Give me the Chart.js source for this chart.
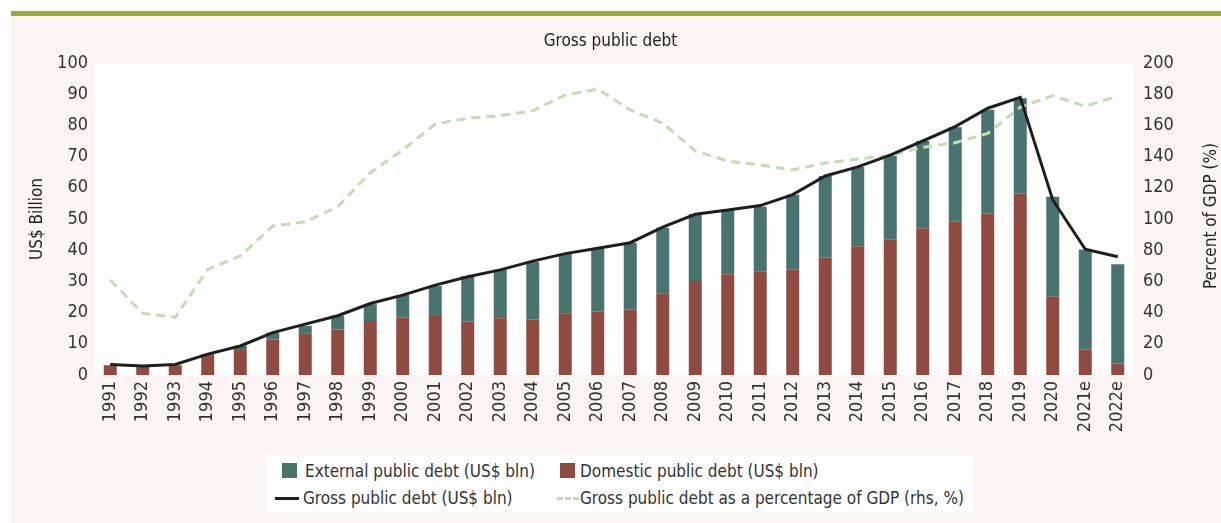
<!DOCTYPE html>
<html>
<head>
<meta charset="utf-8">
<script src="https://cdn.jsdelivr.net/npm/chart.js@4.4.1/dist/chart.umd.min.js"></script>
<style>
    body { margin: 0; background: #fff; font-family: "DejaVu Sans Condensed", sans-serif; }
    .frame { position: absolute; left: 11px; top: 11px; width: 1210px; height: 507px; border-top: 5px solid #9ca93b; background: #fdf5f3; }
    #chartWrap { position: absolute; left: 0; top: 0; width: 1221px; height: 523px; }
    .legend { position: absolute; left: 265px; top: 455px; width: 708px; height: 58px; background: #fff; color: #333; font-size: 17px; }
    .legend .item { position: absolute; white-space: nowrap; line-height: 20px; }
    .legend .sw { position: absolute; }
</style>
</head>
<body>
<div class="frame"></div>
<div id="chartWrap"><canvas id="debtChart" width="1221" height="523"></canvas></div>
<div class="legend">
    <div class="sw" style="left:17px;top:8px;width:15px;height:15px;background:#48736f"></div>
    <div class="item" style="left:40px;top:6px">External public debt (US$ bln)</div>
    <div class="sw" style="left:295px;top:8px;width:15px;height:15px;background:#8f4b40"></div>
    <div class="item" style="left:315px;top:6px">Domestic public debt (US$ bln)</div>
    <div class="sw" style="left:10px;top:42px;width:24px;height:0;border-top:3px solid #1e1e1e"></div>
    <div class="item" style="left:38px;top:33px">Gross public debt (US$ bln)</div>
    <div class="sw" style="left:292px;top:42px;width:22px;height:0;border-top:3px dashed #c5dbb0"></div>
    <div class="item" style="left:315px;top:33px">Gross public debt as a percentage of GDP (rhs, %)</div>
</div>
<script>
const years = ['1991', '1992', '1993', '1994', '1995', '1996', '1997', '1998', '1999', '2000',
    '2001', '2002', '2003', '2004', '2005', '2006', '2007', '2008', '2009', '2010',
    '2011', '2012', '2013', '2014', '2015', '2016', '2017', '2018', '2019', '2020', '2021e', '2022e'];

const domesticDebt = [3.0, 2.6, 3.0, 6.1, 8.0, 11.4, 13.4, 14.6, 17.3, 18.5,
    19.2, 17.2, 18.2, 17.8, 19.8, 20.4, 21.0, 26.2, 30.1, 32.3,
    33.1, 33.7, 37.7, 41.3, 43.5, 47.0, 49.3, 51.8, 58.1, 25.1, 8.2, 3.7];

const externalDebt = [0.2, 0.1, 0.2, 0.6, 1.4, 2.2, 2.4, 4.4, 5.4, 7.1,
    9.3, 14.5, 15.5, 18.5, 19.0, 20.2, 21.4, 21.0, 21.4, 20.6,
    20.8, 24.1, 26.1, 25.4, 26.8, 28.0, 30.1, 33.2, 30.6, 32.0, 32.0, 31.8];

const grossDebt = [3.4, 2.9, 3.4, 6.7, 9.3, 13.6, 16.3, 19.0, 22.9, 25.6,
    28.8, 31.5, 33.7, 36.5, 38.9, 40.6, 42.4, 47.4, 51.5, 52.9,
    54.3, 57.8, 63.8, 66.7, 70.5, 75.0, 79.6, 85.5, 89.0, 56.1, 40.3, 37.9];

const debtPctGdp = [60.9, 39.5, 37.0, 67.7, 76.3, 95.5, 98.3, 107.9, 129.7, 144.2,
    160.9, 164.5, 166.2, 169.4, 179.5, 183.3, 169.9, 161.5, 143.6, 137.2,
    134.6, 131.4, 135.9, 138.5, 140.6, 146.0, 148.9, 154.9, 171.6, 179.1, 172.4, 178.8];

const fontFamily = '"DejaVu Sans Condensed", sans-serif';

// white plot area on the pink card
const plotBackground = {
    id: 'plotBackground',
    beforeDraw(chart) {
        const {ctx, chartArea} = chart;
        ctx.save();
        ctx.fillStyle = '#ffffff';
        ctx.fillRect(chartArea.left, chartArea.top, chartArea.right - chartArea.left, chartArea.bottom - chartArea.top);
        ctx.restore();
    }
};

// right axis title reads bottom-to-top like the left one
const rightTitle = {
    id: 'rightTitle',
    afterDraw(chart) {
        const {ctx, chartArea} = chart;
        const y1 = chart.scales.y1;
        ctx.save();
        ctx.translate(y1.right - 9, (chartArea.top + chartArea.bottom) / 2 - 3);
        ctx.rotate(-Math.PI / 2);
        ctx.font = '17px ' + fontFamily;
        ctx.fillStyle = '#222';
        ctx.textAlign = 'center';
        ctx.textBaseline = 'middle';
        ctx.fillText('Percent of GDP (%)', 0, 0);
        ctx.restore();
    }
};

const ctx = document.getElementById('debtChart').getContext('2d');
new Chart(ctx, {
    data: {
        labels: years,
        datasets: [{
            type: 'bar',
            label: 'Domestic public debt (US$ bln)',
            data: domesticDebt,
            backgroundColor: '#8f4b40',
            stack: 'debt',
            yAxisID: 'y',
            order: 3
        }, {
            type: 'bar',
            label: 'External public debt (US$ bln)',
            data: externalDebt,
            backgroundColor: '#48736f',
            stack: 'debt',
            yAxisID: 'y',
            order: 3
        }, {
            type: 'line',
            label: 'Gross public debt (US$ bln)',
            data: grossDebt,
            borderColor: '#1e1e1e',
            borderWidth: 3,
            pointRadius: 0,
            tension: 0,
            yAxisID: 'y',
            order: 1
        }, {
            type: 'line',
            label: 'Gross public debt as a percentage of GDP (rhs, %)',
            data: debtPctGdp,
            borderColor: '#c5dbb0',
            borderWidth: 3,
            borderDash: [9, 6],
            pointRadius: 0,
            tension: 0,
            yAxisID: 'y1',
            order: 2
        }]
    },
    options: {
        responsive: false,
        animation: false,
        layout: { padding: 0 },
        datasets: {
            bar: { barPercentage: 0.4, categoryPercentage: 1 }
        },
        plugins: {
            legend: { display: false },
            tooltip: { enabled: false },
            title: {
                display: true,
                text: 'Gross public debt',
                color: '#222',
                font: { family: fontFamily, size: 17, weight: 'normal', lineHeight: 1.2 },
                padding: { top: 31, bottom: 11.6 }
            }
        },
        scales: {
            x: {
                stacked: true,
                grid: { display: false, drawTicks: false },
                border: { display: false },
                ticks: {
                    color: '#333',
                    font: { family: fontFamily, size: 18 },
                    minRotation: 90,
                    maxRotation: 90,
                    autoSkip: false,
                    padding: 6
                },
                afterFit(scale) { scale.height = 148; }
            },
            y: {
                stacked: true,
                position: 'left',
                min: 0,
                max: 100,
                grid: { display: false, drawTicks: false },
                border: { display: false },
                ticks: {
                    stepSize: 10,
                    color: '#333',
                    font: { family: fontFamily, size: 18 },
                    padding: 6
                },
                title: {
                    display: true,
                    text: 'US$ Billion',
                    color: '#222',
                    font: { family: fontFamily, size: 17, lineHeight: 1.2 },
                    padding: { top: 27, bottom: 0 }
                },
                afterFit(scale) { scale.width = 94; }
            },
            y1: {
                position: 'right',
                min: 0,
                max: 200,
                grid: { display: false, drawTicks: false },
                border: { display: false },
                ticks: {
                    stepSize: 20,
                    color: '#333',
                    font: { family: fontFamily, size: 18 },
                    padding: 9
                },
                afterFit(scale) { scale.width = 87; }
            }
        }
    },
    plugins: [plotBackground, rightTitle]
});
</script>
</body>
</html>
